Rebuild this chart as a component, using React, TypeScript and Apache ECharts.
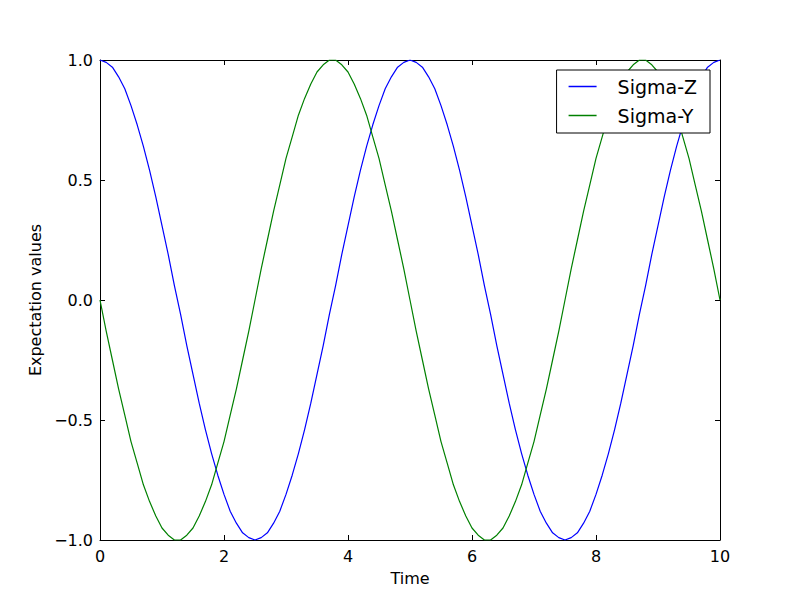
import React, { useEffect, useRef } from "react";
import * as echarts from "echarts";

const times = [
  0, 0.1, 0.2, 0.3, 0.4, 0.5, 0.6, 0.7, 0.8, 0.9,
  1, 1.1, 1.2, 1.3, 1.4, 1.5, 1.6, 1.7, 1.8, 1.9,
  2, 2.1, 2.2, 2.3, 2.4, 2.5, 2.6, 2.7, 2.8, 2.9,
  3, 3.1, 3.2, 3.3, 3.4, 3.5, 3.6, 3.7, 3.8, 3.9,
  4, 4.1, 4.2, 4.3, 4.4, 4.5, 4.6, 4.7, 4.8, 4.9,
  5, 5.1, 5.2, 5.3, 5.4, 5.5, 5.6, 5.7, 5.8, 5.9,
  6, 6.1, 6.2, 6.3, 6.4, 6.5, 6.6, 6.7, 6.8, 6.9,
  7, 7.1, 7.2, 7.3, 7.4, 7.5, 7.6, 7.7, 7.8, 7.9,
  8, 8.1, 8.2, 8.3, 8.4, 8.5, 8.6, 8.7, 8.8, 8.9,
  9, 9.1, 9.2, 9.3, 9.4, 9.5, 9.6, 9.7, 9.8, 9.9,
  10,
];

const sigmaZ = [
  1.0, 0.99, 0.97, 0.93, 0.88, 0.81, 0.73, 0.64, 0.54, 0.43,
  0.31, 0.19, 0.06, -0.06, -0.19, -0.31, -0.43, -0.54, -0.64, -0.73,
  -0.81, -0.88, -0.93, -0.97, -0.99, -1.0, -0.99, -0.97, -0.93, -0.88,
  -0.81, -0.73, -0.64, -0.54, -0.43, -0.31, -0.19, -0.06, 0.06, 0.19,
  0.31, 0.43, 0.54, 0.64, 0.73, 0.81, 0.88, 0.93, 0.97, 0.99,
  1.0, 0.99, 0.97, 0.93, 0.88, 0.81, 0.73, 0.64, 0.54, 0.43,
  0.31, 0.19, 0.06, -0.06, -0.19, -0.31, -0.43, -0.54, -0.64, -0.73,
  -0.81, -0.88, -0.93, -0.97, -0.99, -1.0, -0.99, -0.97, -0.93, -0.88,
  -0.81, -0.73, -0.64, -0.54, -0.43, -0.31, -0.19, -0.06, 0.06, 0.19,
  0.31, 0.43, 0.54, 0.64, 0.73, 0.81, 0.88, 0.93, 0.97, 0.99,
  1.0,
];

const sigmaY = [
  0.0, -0.13, -0.25, -0.37, -0.48, -0.59, -0.68, -0.77, -0.84, -0.9,
  -0.95, -0.98, -1.0, -1.0, -0.98, -0.95, -0.9, -0.84, -0.77, -0.68,
  -0.59, -0.48, -0.37, -0.25, -0.13, 0.0, 0.13, 0.25, 0.37, 0.48,
  0.59, 0.68, 0.77, 0.84, 0.9, 0.95, 0.98, 1.0, 1.0, 0.98,
  0.95, 0.9, 0.84, 0.77, 0.68, 0.59, 0.48, 0.37, 0.25, 0.13,
  0.0, -0.13, -0.25, -0.37, -0.48, -0.59, -0.68, -0.77, -0.84, -0.9,
  -0.95, -0.98, -1.0, -1.0, -0.98, -0.95, -0.9, -0.84, -0.77, -0.68,
  -0.59, -0.48, -0.37, -0.25, -0.13, 0.0, 0.13, 0.25, 0.37, 0.48,
  0.59, 0.68, 0.77, 0.84, 0.9, 0.95, 0.98, 1.0, 1.0, 0.98,
  0.95, 0.9, 0.84, 0.77, 0.68, 0.59, 0.48, 0.37, 0.25, 0.13,
  0.0,
];

const seriesNames = ["Sigma-Z", "Sigma-Y"];
const xLabel = "Time";
const yLabel = "Expectation values";

const FONT = "DejaVu Sans";

export default function App() {
  const ref = useRef<HTMLDivElement>(null);

  useEffect(() => {
    if (!ref.current) return;
    const chart = echarts.init(ref.current, null, { renderer: "svg" });
    const tickStyle = {
      show: true,
      inside: true,
      length: 5,
      lineStyle: { color: "#000", width: 1 },
    };
    const axisLine = { show: true, onZero: false, lineStyle: { color: "#000", width: 1 } };
    const fmt = (v: number) => v.toFixed(1).replace("-", "\u2212");
    const fmtX = (v: number) => String(v);
    const xBase = {
      type: "value" as const,
      min: 0,
      max: 10,
      interval: 2,
      splitLine: { show: false },
      axisLine,
      axisTick: tickStyle,
    };
    const yBase = {
      type: "value" as const,
      min: -1,
      max: 1,
      interval: 0.5,
      splitLine: { show: false },
      axisLine,
      axisTick: tickStyle,
    };
    chart.setOption({
      animation: false,
      backgroundColor: "#fff",
      textStyle: { fontFamily: FONT },
      grid: { left: 100, right: 80, top: 60, bottom: 60, containLabel: false },
      legend: {
        data: seriesNames,
        orient: "vertical",
        right: 90,
        top: 70,
        backgroundColor: "#fff",
        borderColor: "#000",
        borderWidth: 1,
        borderRadius: 0,
        padding: [7, 13, 8, 12],
        itemGap: 10,
        itemWidth: 28,
        itemHeight: 1.5,
        icon: "rect",
        textStyle: { fontFamily: FONT, fontSize: 19, color: "#000", padding: [0, 0, 0, 16] },
      },
      xAxis: [
        {
          ...xBase,
          position: "bottom",
          name: xLabel,
          nameLocation: "middle",
          nameGap: 30,
          nameTextStyle: { fontFamily: FONT, fontSize: 16, color: "#000" },
          axisLabel: { fontFamily: FONT, fontSize: 16, color: "#000", margin: 8, formatter: fmtX },
        },
        {
          ...xBase,
          position: "top",
          axisLabel: { show: false },
        },
      ],
      yAxis: [
        {
          ...yBase,
          position: "left",
          name: yLabel,
          nameLocation: "middle",
          nameGap: 42,
          nameTextStyle: { fontFamily: FONT, fontSize: 16, color: "#000" },
          axisLabel: { fontFamily: FONT, fontSize: 16, color: "#000", margin: 7, formatter: fmt },
        },
        {
          ...yBase,
          position: "right",
          axisLabel: { show: false },
        },
      ],
      series: [
        {
          name: seriesNames[0],
          type: "line",
          xAxisIndex: 0,
          yAxisIndex: 0,
          data: times.map((t, i) => [t, sigmaZ[i]]),
          showSymbol: false,
          symbol: "none",
          lineStyle: { color: "#0000ff", width: 1.2 },
          itemStyle: { color: "#0000ff" },
          z: 2,
        },
        {
          name: seriesNames[1],
          type: "line",
          xAxisIndex: 0,
          yAxisIndex: 0,
          data: times.map((t, i) => [t, sigmaY[i]]),
          showSymbol: false,
          symbol: "none",
          lineStyle: { color: "#008000", width: 1.2 },
          itemStyle: { color: "#008000" },
          z: 2,
        },
      ],
    });
    return () => chart.dispose();
  }, []);

  return <div ref={ref} style={{ width: 800, height: 600, margin: -8 }} />;
}
